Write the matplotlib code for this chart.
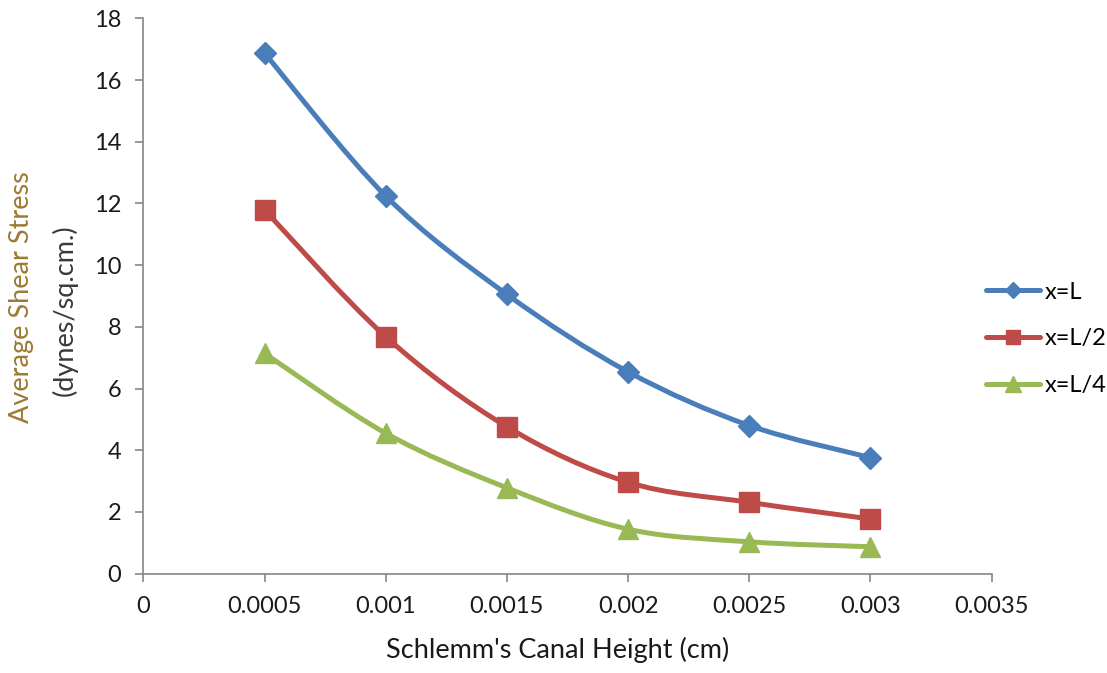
import matplotlib
matplotlib.use("Agg")
import matplotlib.pyplot as plt
from matplotlib.path import Path
from matplotlib.patches import PathPatch
from matplotlib.lines import Line2D

plt.rcParams['font.family'] = ['Lato', 'DejaVu Sans']

# Data
heights = [0.0005, 0.001, 0.0015, 0.002, 0.0025, 0.003]
stress_L = [16.87, 12.24, 9.05, 6.54, 4.80, 3.76]
stress_L2 = [11.79, 7.68, 4.76, 2.96, 2.31, 1.77]
stress_L4 = [7.14, 4.55, 2.78, 1.44, 1.03, 0.87]

series_names = ["x=L", "x=L/2", "x=L/4"]
colors = ["#4A7EBB", "#BE4B48", "#98B954"]
markers = ["D", "s", "^"]
msizes = [11, 14, 15]

xticks = [0, 0.0005, 0.001, 0.0015, 0.002, 0.0025, 0.003, 0.0035]
xtick_labels = ["0", "0.0005", "0.001", "0.0015", "0.002", "0.0025", "0.003", "0.0035"]
yticks = [0, 2, 4, 6, 8, 10, 12, 14, 16, 18]


def smooth_path(xs, ys):
    # Excel-style smoothed line: cubic Bezier segments (Catmull-Rom control points)
    verts = [(xs[0], ys[0])]
    codes = [Path.MOVETO]
    n = len(xs)
    for i in range(n - 1):
        x0, y0 = (xs[i - 1], ys[i - 1]) if i > 0 else (xs[i], ys[i])
        x1, y1 = xs[i], ys[i]
        x2, y2 = xs[i + 1], ys[i + 1]
        x3, y3 = (xs[i + 2], ys[i + 2]) if i + 2 < n else (xs[i + 1], ys[i + 1])
        verts += [(x1 + (x2 - x0) / 6, y1 + (y2 - y0) / 6),
                  (x2 - (x3 - x1) / 6, y2 - (y3 - y1) / 6),
                  (x2, y2)]
        codes += [Path.CURVE4] * 3
    return Path(verts, codes)


fig = plt.figure(figsize=(11.07, 6.73), dpi=100)
ax = fig.add_axes([0.1295, 0.1477, 0.7663, 0.8251])

handles = []
for ys, name, c, m, ms in zip([stress_L, stress_L2, stress_L4], series_names, colors, markers, msizes):
    ax.add_patch(PathPatch(smooth_path(heights, ys), facecolor="none", edgecolor=c,
                           lw=3.6, capstyle="round", joinstyle="round", zorder=2))
    ax.plot(heights, ys, linestyle="none", marker=m, markersize=ms, color=c, zorder=3)
    handles.append(Line2D([], [], color=c, lw=3.6, marker=m, markersize=ms,
                          solid_capstyle="round", label=name))

ax.set_xlim(0, 0.0035)
ax.set_ylim(0, 18)
ax.set_xticks(xticks)
ax.set_xticklabels(xtick_labels)
ax.set_yticks(yticks)

for s in ["top", "right"]:
    ax.spines[s].set_visible(False)
for s in ["left", "bottom"]:
    ax.spines[s].set_color("#868686")
    ax.spines[s].set_linewidth(1.2)
ax.tick_params(direction="out", length=6, width=1.2, color="#868686",
               labelsize=17, labelcolor="#1a1a1a", pad=10)

fig.text(558 / 1107, 1 - 658 / 673, "Schlemm's Canal Height (cm)", fontsize=19.5,
         color="#1a1a1a", ha="center", va="baseline")
fig.text(22 / 1107, 1 - 297 / 673, "Average Shear Stress", fontsize=19.5,
         color="#9B7B30", rotation=90, ha="center", va="center")
fig.text(65 / 1107, 1 - 310 / 673, "(dynes/sq.cm.)", fontsize=19.5,
         color="#3a3a3a", rotation=90, ha="center", va="center")

fig.legend(handles=handles, loc="center left", bbox_to_anchor=(986 / 1107, 1 - 339 / 673),
           frameon=False, fontsize=17, handlelength=2.3, handletextpad=0.17,
           labelspacing=1.1, borderpad=0, borderaxespad=0, markerscale=0.75)

fig.savefig("out.png", dpi=100, facecolor="white")
